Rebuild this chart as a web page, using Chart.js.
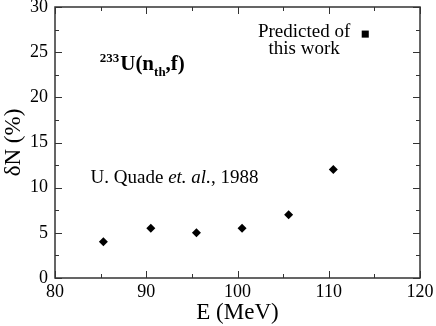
<!DOCTYPE html>
<html>
<head>
<meta charset="utf-8">
<script src="https://cdn.jsdelivr.net/npm/chart.js@4/dist/chart.umd.min.js"></script>
<style>
  html, body { margin: 0; padding: 0; background: #fff; }
  #wrap { width: 436px; height: 326px; }
</style>
</head>
<body>
<div id="wrap"><canvas id="dnChart"></canvas></div>
<script>
// measured points (U. Quade et al., 1988)
const quadeE = [85.3, 90.5, 95.5, 100.5, 105.6, 110.5];
const quadeDN = [4.0, 5.5, 5.0, 5.5, 7.0, 12.0];
// prediction of this work
const predE = [114.0];
const predDN = [27.0];

const xTicks = [80, 90, 100, 110, 120];
const yTicks = [0, 5, 10, 15, 20, 25, 30];

const SERIF = '"Liberation Serif", "DejaVu Serif", serif';
const FRAME = '#333';

// frame + inward ticks on all four sides
const frameTicks = {
    id: 'frameTicks',
    afterDraw(chart) {
        const ctx = chart.ctx;
        const a = chart.chartArea;
        const xs = chart.scales.x, ys = chart.scales.y;
        ctx.save();
        ctx.strokeStyle = FRAME;
        ctx.lineWidth = 1.5;
        ctx.strokeRect(a.left, a.top, a.right - a.left, a.bottom - a.top);
        ctx.lineWidth = 1;
        ctx.beginPath();
        for (let v = 80; v <= 120; v += 5) {
            const px = Math.round(xs.getPixelForValue(v)) + 0.5;
            const len = v % 10 === 0 ? 7 : 4;
            ctx.moveTo(px, a.bottom); ctx.lineTo(px, a.bottom - len);
            ctx.moveTo(px, a.top); ctx.lineTo(px, a.top + len);
        }
        for (let v = 0; v <= 30; v += 2.5) {
            const py = Math.round(ys.getPixelForValue(v)) + 0.5;
            const len = v % 5 === 0 ? 7 : 4;
            ctx.moveTo(a.left, py); ctx.lineTo(a.left + len, py);
            ctx.moveTo(a.right, py); ctx.lineTo(a.right - len, py);
        }
        ctx.stroke();
        ctx.restore();
    }
};

// text labels placed in data coordinates
const notes = {
    id: 'notes',
    afterDatasetsDraw(chart) {
        const ctx = chart.ctx;
        const xs = chart.scales.x, ys = chart.scales.y;
        ctx.save();
        ctx.fillStyle = '#000';
        ctx.textBaseline = 'alphabetic';

        // 233U(nth,f)
        let x = xs.getPixelForValue(84.9);
        let y = ys.getPixelForValue(23.0);
        ctx.textAlign = 'left';
        ctx.font = 'bold 13px ' + SERIF;
        ctx.fillText('233', x, y - 8);
        x += ctx.measureText('233').width + 1;
        ctx.font = 'bold 21px ' + SERIF;
        ctx.fillText('U(n', x, y);
        x += ctx.measureText('U(n').width;
        ctx.font = 'bold 13px ' + SERIF;
        ctx.fillText('th', x, y + 6);
        x += ctx.measureText('th').width;
        ctx.font = 'bold 21px ' + SERIF;
        ctx.fillText(',f)', x, y);

        // prediction label
        ctx.font = '19px ' + SERIF;
        ctx.textAlign = 'center';
        const cx = xs.getPixelForValue(107.3);
        ctx.fillText('Predicted of', cx, ys.getPixelForValue(26.7));
        ctx.fillText('this work', cx, ys.getPixelForValue(24.8));

        // reference label
        ctx.textAlign = 'left';
        let qx = xs.getPixelForValue(83.9);
        const qy = ys.getPixelForValue(10.5);
        const parts = [['U. Quade ', ''], ['et. al.', 'italic '], [', 1988', '']];
        for (const [t, style] of parts) {
            ctx.font = style + '19px ' + SERIF;
            ctx.fillText(t, qx, qy);
            qx += ctx.measureText(t).width;
        }
        ctx.restore();
    }
};

new Chart(document.getElementById('dnChart'), {
    type: 'scatter',
    data: {
        datasets: [
            {
                label: 'U. Quade et al., 1988',
                data: quadeE.map((e, i) => ({ x: e, y: quadeDN[i] })),
                pointStyle: 'rectRot',
                pointRadius: 4.5,
                backgroundColor: '#000',
                borderColor: '#000',
                borderWidth: 0
            },
            {
                label: 'Predicted of this work',
                data: predE.map((e, i) => ({ x: e, y: predDN[i] })),
                pointStyle: 'rect',
                pointRadius: 5,
                backgroundColor: '#000',
                borderColor: '#000',
                borderWidth: 0
            }
        ]
    },
    options: {
        responsive: true,
        maintainAspectRatio: false,
        animation: false,
        events: [],
        layout: { padding: { top: 7, right: 16, left: 0, bottom: 0 } },
        plugins: {
            legend: { display: false },
            tooltip: { enabled: false }
        },
        scales: {
            x: {
                type: 'linear',
                min: 80, max: 120,
                afterBuildTicks: s => { s.ticks = xTicks.map(v => ({ value: v })); },
                afterFit: s => { s.height = 48; s.paddingLeft = 0; s.paddingRight = 0; },
                grid: { display: false, drawTicks: false },
                border: { display: false },
                ticks: {
                    color: '#000',
                    padding: 3,
                    maxRotation: 0,
                    font: { family: SERIF, size: 18 }
                },
                title: {
                    display: true,
                    text: 'E (MeV)',
                    color: '#000',
                    padding: { top: 0, bottom: 0 },
                    font: { family: SERIF, size: 23, lineHeight: 1.1 }
                }
            },
            y: {
                type: 'linear',
                min: 0, max: 30,
                afterBuildTicks: s => { s.ticks = yTicks.map(v => ({ value: v })); },
                afterFit: s => { s.width = 55; s.paddingTop = 0; s.paddingBottom = 0; },
                grid: { display: false, drawTicks: false },
                border: { display: false },
                ticks: {
                    color: '#000',
                    padding: 7,
                    font: { family: SERIF, size: 18 }
                },
                title: {
                    display: true,
                    text: 'δN (%)',
                    color: '#000',
                    padding: { top: 1, bottom: 0 },
                    font: { family: SERIF, size: 23, lineHeight: 1.1 }
                }
            }
        }
    },
    plugins: [frameTicks, notes]
});
</script>
</body>
</html>
